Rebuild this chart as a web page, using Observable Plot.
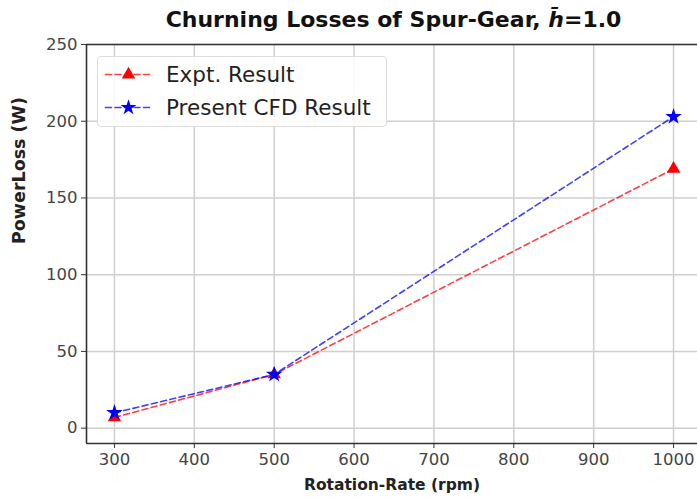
<!DOCTYPE html>
<html>
<head>
<meta charset="utf-8">
<script src="https://cdn.jsdelivr.net/npm/d3@7"></script>
<script src="https://cdn.jsdelivr.net/npm/@observablehq/plot@0.6"></script>
<style>
  html, body { margin: 0; padding: 0; background: #fff; }
  #wrap { position: relative; width: 697px; height: 502px; overflow: hidden; font-family: "DejaVu Sans", sans-serif; }
  #title { position: absolute; left: 86px; width: 615px; top: 6px; text-align: center; font-weight: bold; font-size: 22px; line-height: 28px; color: #111; white-space: nowrap; }
  #chart { position: absolute; left: 0; top: 36px; }
  #legend { position: absolute; left: 97px; top: 56px; width: 290px; height: 71px; border: 1px solid #ddd; border-radius: 4px; background: rgba(255,255,255,0.85); box-sizing: border-box; }
  .item { position: absolute; left: 7px; height: 26px; display: flex; align-items: center; font-size: 21.5px; color: #222; white-space: nowrap; }
  .item svg { margin-right: 15px; }
</style>
</head>
<body>
<div id="wrap">
  <div id="title">Churning Losses of Spur-Gear, <i style="font-weight:bold">h&#772;</i>=1.0</div>
  <div id="chart"></div>
  <div id="legend"></div>
</div>
<script>
const rpm = [300, 500, 1000];
const expt = [7, 35, 169];
const cfd = [10, 35, 203];
const xTicks = [300, 400, 500, 600, 700, 800, 900, 1000];
const yTicks = [0, 50, 100, 150, 200, 250];
const seriesNames = ["Expt. Result", "Present CFD Result"];
const seriesColors = ["red", "blue"];
const seriesSymbols = ["triangle", "star"];

const exptData = rpm.map((x, i) => ({x, y: expt[i]}));
const cfdData = rpm.map((x, i) => ({x, y: cfd[i]}));

const chart = Plot.plot({
  width: 697,
  height: 466,
  marginLeft: 86,
  marginRight: 0,
  marginTop: 8,
  marginBottom: 59,
  style: {fontFamily: "DejaVu Sans, sans-serif", fontSize: "16px", background: "white", overflow: "visible"},
  x: {domain: [265, 1030], ticks: xTicks, tickFormat: "d"},
  y: {domain: [-10, 250], ticks: yTicks, tickFormat: "d"},
  marks: [
    Plot.gridX(xTicks, {stroke: "#cfcfcf", strokeOpacity: 1, strokeWidth: 1.5}),
    Plot.gridY(yTicks, {stroke: "#cfcfcf", strokeOpacity: 1, strokeWidth: 1.5}),
    Plot.ruleX([265], {stroke: "#333", strokeWidth: 1.6}),
    Plot.ruleY([-10], {stroke: "#333", strokeWidth: 1.6}),
    Plot.ruleY([250], {stroke: "#333", strokeWidth: 1.6}),
    Plot.axisX(xTicks, {tickSize: 5, tickPadding: 5, fontSize: 16.5, fill: "#444", stroke: "#333", label: null, tickFormat: "d"}),
    Plot.axisY(yTicks, {tickSize: 5, tickPadding: 4, fontSize: 16.5, fill: "#444", stroke: "#333", label: null, tickFormat: "d"}),
    Plot.text(["Rotation-Rate (rpm)"], {frameAnchor: "bottom", dy: 46, text: d => d, fontWeight: "bold", fontSize: 15.5, fill: "#222"}),
    Plot.text(["PowerLoss (W)"], {frameAnchor: "left", dx: -67, rotate: -90, text: d => d, fontWeight: "bold", fontSize: 17.5, fill: "#222"}),
    Plot.line(exptData, {x: "x", y: "y", stroke: seriesColors[0], strokeOpacity: 0.75, strokeWidth: 1.6, strokeDasharray: "6,3.5"}),
    Plot.line(cfdData, {x: "x", y: "y", stroke: seriesColors[1], strokeOpacity: 0.75, strokeWidth: 1.6, strokeDasharray: "6,3.5"}),
    Plot.dot(exptData, {x: "x", y: "y", symbol: seriesSymbols[0], r: 5, fill: seriesColors[0], stroke: null}),
    Plot.dot(cfdData, {x: "x", y: "y", symbol: seriesSymbols[1], r: 5.2, fill: seriesColors[1], stroke: null})
  ]
});
document.getElementById("chart").appendChild(chart);

// Legend
const legend = document.getElementById("legend");
seriesNames.forEach((name, i) => {
  const item = document.createElement("div");
  item.className = "item";
  item.style.top = (4 + i * 33) + "px";
  const sw = Plot.plot({
    width: 46, height: 24, margin: 0,
    x: {domain: [0, 2], axis: null},
    y: {domain: [0, 1], axis: null},
    style: {overflow: "visible", background: "transparent"},
    marks: [
      Plot.line([{x: 0, y: 0.5}, {x: 2, y: 0.5}], {x: "x", y: "y", stroke: seriesColors[i], strokeOpacity: 0.75, strokeWidth: 1.6, strokeDasharray: "6,3.5"}),
      Plot.dot([{x: 1, y: 0.5}], {x: "x", y: "y", symbol: seriesSymbols[i], r: 5, fill: seriesColors[i], stroke: null})
    ]
  });
  item.appendChild(sw);
  const t = document.createElement("span");
  t.textContent = name;
  item.appendChild(t);
  legend.appendChild(item);
});
</script>
</body>
</html>
